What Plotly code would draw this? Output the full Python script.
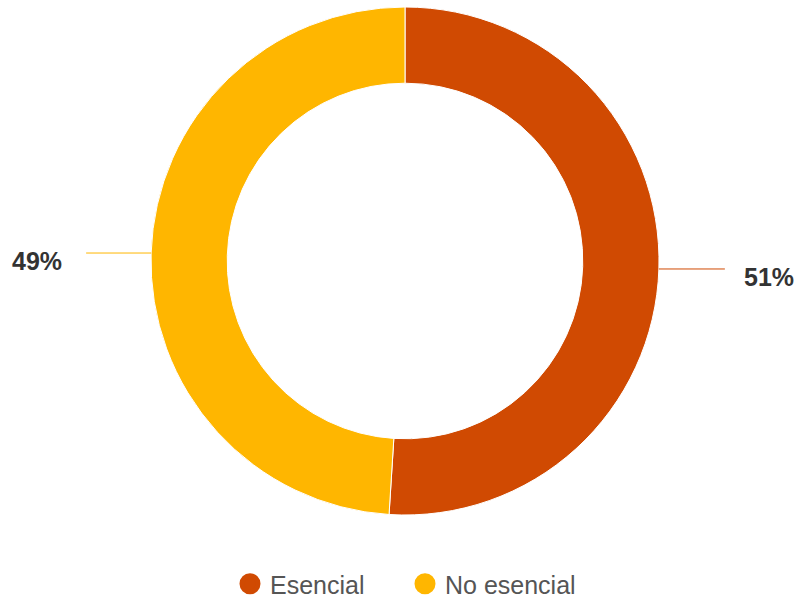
import math
import plotly.graph_objects as go

categories = ["Esencial", "No esencial"]
values = [51, 49]
colors = ["#D04A02", "#FFB600"]

W, H = 797, 601
CX, CY, R = 405, 261, 254  # donut centre and radius in pixels
HOLE = 0.70

def px(x):
    return x / W

def py(y):
    return 1 - y / H

fig = go.Figure()
fig.add_trace(go.Pie(
    labels=categories, values=values, sort=False, direction="clockwise",
    rotation=0, hole=HOLE, textinfo="none", hoverinfo="label+percent",
    marker=dict(colors=colors, line=dict(color="white", width=1)),
    domain=dict(x=[px(CX - R), px(CX + R)], y=[py(CY + R), py(CY - R)]),
    showlegend=False,
))

# legend entries with round markers
for name, col in zip(categories, colors):
    fig.add_trace(go.Scatter(
        x=[None], y=[None], mode="markers", name=name,
        marker=dict(symbol="circle", size=16, color=col,
                    line=dict(color=col, width=5)),
    ))

# outside labels with horizontal leader lines, computed from the values
total = sum(values)
cum = 0
shapes, annotations = [], []
for name, v, col in zip(categories, values, colors):
    mid = (cum + v / 2) / total * 2 * math.pi  # clockwise from 12 o'clock
    cum += v
    ex = CX + R * math.sin(mid)
    ey = CY - R * math.cos(mid)
    right = math.sin(mid) >= 0
    lx = ex + 66 if right else ex - 65
    shapes.append(dict(type="line", xref="paper", yref="paper",
                       x0=px(ex), y0=py(ey), x1=px(lx), y1=py(ey),
                       line=dict(color=col, width=1)))
    pct = round(v / total * 100)
    annotations.append(dict(
        xref="paper", yref="paper",
        x=px(lx + 17 if right else lx - 22), y=py(ey + 8),
        xanchor="left" if right else "right", yanchor="middle",
        text=f"<b>{pct}%</b>", showarrow=False,
        font=dict(family="Liberation Sans, Arial", size=25, color="#333333"),
    ))

fig.update_layout(
    width=W, height=H, margin=dict(l=0, r=0, t=0, b=0, autoexpand=False),
    paper_bgcolor="white", plot_bgcolor="white",
    xaxis=dict(visible=False), yaxis=dict(visible=False),
    shapes=shapes, annotations=annotations,
    legend=dict(orientation="h", x=px(230), xanchor="left", y=py(584),
                yanchor="middle", itemsizing="trace", entrywidth=130,
                font=dict(family="Liberation Sans, Arial", size=25, color="#555555"),
                itemwidth=30, tracegroupgap=0),
)

fig.write_html("out.html", config={"displayModeBar": False},
               post_script="document.body.style.margin='0';document.body.style.overflow='hidden';")
